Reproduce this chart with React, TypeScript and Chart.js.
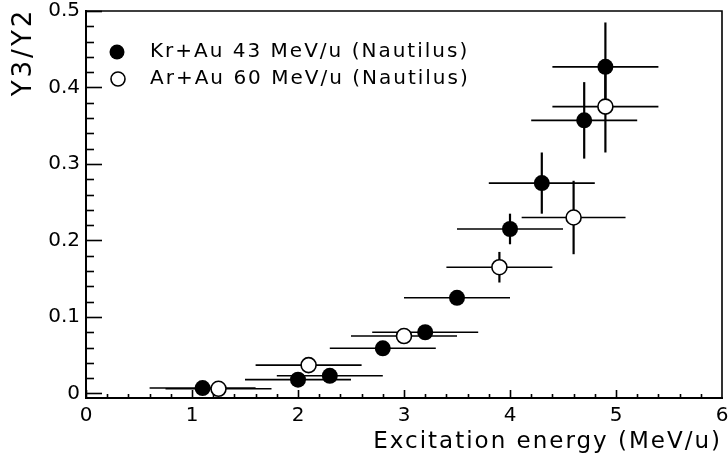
import { useEffect, useRef } from "react";
import { Chart, registerables } from "chart.js";
Chart.register(...registerables);

const krLabel = "Kr+Au 43 MeV/u (Nautilus)";
const krX = [1.1, 2.0, 2.3, 2.8, 3.2, 3.5, 4.0, 4.3, 4.7, 4.9];
const krY = [0.007, 0.018, 0.023, 0.059, 0.08, 0.125, 0.215, 0.275, 0.357, 0.427];
const krXErr = [0.5, 0.5, 0.5, 0.5, 0.5, 0.5, 0.5, 0.5, 0.5, 0.5];
const krYErr = [0, 0, 0, 0, 0, 0, 0.02, 0.04, 0.05, 0.058];

const arLabel = "Ar+Au 60 MeV/u (Nautilus)";
const arX = [1.25, 2.1, 3.0, 3.9, 4.6, 4.9];
const arY = [0.006, 0.037, 0.075, 0.165, 0.23, 0.375];
const arXErr = [0.5, 0.5, 0.5, 0.5, 0.49, 0.5];
const arYErr = [0, 0, 0, 0.02, 0.048, 0.06];

const xTicks = [0, 1, 2, 3, 4, 5, 6];
const yTicks = [0, 0.1, 0.2, 0.3, 0.4, 0.5];
const yTickLabels = ["0", "0.1", "0.2", "0.3", "0.4", "0.5"];
const xTitle = "Excitation energy (MeV/u)";
const yTitle = "Y3/Y2";

const FONT = "'DejaVu Sans', sans-serif";

export default function App() {
  const ref = useRef<HTMLCanvasElement | null>(null);
  useEffect(() => {
    const canvas = ref.current;
    if (!canvas) return;
    const errBars = {
      id: "errBars",
      beforeDatasetsDraw(chart: any) {
        const { ctx, scales } = chart;
        const xs = scales.x;
        const ys = scales.y;
        ctx.save();
        ctx.strokeStyle = "#000";
        const sets = [
          [krX, krY, krXErr, krYErr],
          [arX, arY, arXErr, arYErr],
        ];
        for (const [X, Y, XE, YE] of sets) {
          for (let i = 0; i < X.length; i++) {
            const px = xs.getPixelForValue(X[i]);
            const py = ys.getPixelForValue(Y[i]);
            ctx.lineWidth = 1.6;
            ctx.beginPath();
            ctx.moveTo(xs.getPixelForValue(X[i] - XE[i]), py);
            ctx.lineTo(xs.getPixelForValue(X[i] + XE[i]), py);
            ctx.stroke();
            if (YE[i] > 0) {
              ctx.lineWidth = 2.2;
              ctx.beginPath();
              ctx.moveTo(px, ys.getPixelForValue(Y[i] - YE[i]));
              ctx.lineTo(px, ys.getPixelForValue(Y[i] + YE[i]));
              ctx.stroke();
            }
          }
        }
        ctx.restore();
      },
    };
    const frame = {
      id: "frame",
      afterDraw(chart: any) {
        const { ctx, chartArea: a, scales } = chart;
        const xs = scales.x;
        const ys = scales.y;
        ctx.save();
        ctx.strokeStyle = "#000";
        // top & right border
        ctx.lineWidth = 1.6;
        ctx.beginPath();
        ctx.moveTo(a.left, a.top);
        ctx.lineTo(a.right, a.top);
        ctx.lineTo(a.right, a.bottom);
        ctx.stroke();
        // y ticks
        ctx.lineWidth = 1.6;
        for (let k = 0; k < yTicks.length - 1; k++) {
          for (let m = 0; m < 5; m++) {
            const v = yTicks[k] + ((yTicks[k + 1] - yTicks[k]) * m) / 5;
            const py = Math.round(ys.getPixelForValue(v)) + 0.5;
            const len = m === 0 ? 16 : 8;
            ctx.beginPath();
            ctx.moveTo(a.left, py);
            ctx.lineTo(a.left + len, py);
            ctx.stroke();
          }
        }
        {
          const py = Math.round(ys.getPixelForValue(yTicks[yTicks.length - 1])) + 0.5;
          ctx.beginPath();
          ctx.moveTo(a.left, py);
          ctx.lineTo(a.left + 16, py);
          ctx.stroke();
        }
        // x ticks
        for (let k = 0; k < xTicks.length - 1; k++) {
          for (let m = 0; m < 5; m++) {
            const v = xTicks[k] + ((xTicks[k + 1] - xTicks[k]) * m) / 5;
            const px = Math.round(xs.getPixelForValue(v)) + 0.5;
            const len = m === 0 ? 8 : 4;
            ctx.beginPath();
            ctx.moveTo(px, a.bottom);
            ctx.lineTo(px, a.bottom - len);
            ctx.stroke();
          }
        }
        // legend
        ctx.fillStyle = "#000";
        ctx.beginPath();
        ctx.arc(117, 52, 7.5, 0, Math.PI * 2);
        ctx.fill();
        ctx.fillStyle = "#fff";
        ctx.lineWidth = 1.6;
        ctx.beginPath();
        ctx.arc(118, 79, 7, 0, Math.PI * 2);
        ctx.fill();
        ctx.stroke();
        ctx.fillStyle = "#000";
        ctx.font = `20px ${FONT}`;
        (ctx as any).letterSpacing = "2px";
        ctx.textAlign = "left";
        ctx.textBaseline = "middle";
        ctx.fillText(krLabel, 150, 52);
        ctx.fillText(arLabel, 150, 79);
        // x title
        ctx.font = `23px ${FONT}`;
        (ctx as any).letterSpacing = "2px";
        ctx.textAlign = "right";
        ctx.textBaseline = "alphabetic";
        ctx.fillText(xTitle, 722, 448);
        // y title
        ctx.translate(24, 52);
        ctx.rotate(-Math.PI / 2);
        ctx.font = `26px ${FONT}`;
        (ctx as any).letterSpacing = "3px";
        ctx.textAlign = "center";
        ctx.textBaseline = "middle";
        ctx.fillText(yTitle, 0, 0);
        ctx.restore();
      },
    };
    const chart = new Chart(canvas, {
      type: "scatter",
      data: {
        datasets: [
          {
            label: krLabel,
            data: krX.map((x, i) => ({ x, y: krY[i] })),
            pointRadius: 8,
            pointBackgroundColor: "#000",
            pointBorderColor: "#000",
            pointBorderWidth: 0,
            order: 1,
          },
          {
            label: arLabel,
            data: arX.map((x, i) => ({ x, y: arY[i] })),
            pointRadius: 7.5,
            pointBackgroundColor: "#fff",
            pointBorderColor: "#000",
            pointBorderWidth: 1.6,
            order: 0,
          },
        ],
      },
      options: {
        animation: false,
        responsive: false,
        layout: { padding: { top: 11, right: 6, left: 0, bottom: 0 }, autoPadding: false },
        plugins: { legend: { display: false }, tooltip: { enabled: false } },
        scales: {
          x: {
            type: "linear",
            min: 0,
            max: 6,
            afterFit(s: any) {
              s.height = 59;
              s.paddingLeft = 0;
              s.paddingRight = 0;
              s.paddingTop = 0;
              s.paddingBottom = 0;
            },
            afterBuildTicks(s: any) {
              s.ticks = xTicks.map((v) => ({ value: v }));
            },
            grid: { display: false, drawTicks: false },
            border: { display: true, color: "#000", width: 2 },
            ticks: {
              padding: 6,
              color: "#000",
              font: { family: FONT, size: 20 },
              maxRotation: 0,
              callback: (v: any) => String(v),
            },
          },
          y: {
            type: "linear",
            min: -0.006,
            max: 0.5,
            afterFit(s: any) {
              s.width = 86;
              s.paddingLeft = 0;
              s.paddingRight = 0;
              s.paddingTop = 0;
              s.paddingBottom = 0;
            },
            afterBuildTicks(s: any) {
              s.ticks = yTicks.map((v) => ({ value: v }));
            },
            grid: { display: false, drawTicks: false },
            border: { display: true, color: "#000", width: 2 },
            ticks: {
              padding: 6,
              color: "#000",
              font: { family: FONT, size: 20 },
              callback: (v: any) => {
                const i = yTicks.indexOf(v);
                return i >= 0 ? yTickLabels[i] : "";
              },
            },
          },
        },
      },
      plugins: [errBars, frame],
    } as any);
    return () => chart.destroy();
  }, []);
  return (
    <div style={{ position: "fixed", left: 0, top: 0, width: 728, height: 457, background: "#fff" }}>
      <canvas ref={ref} width={728} height={457} style={{ display: "block", width: 728, height: 457 }} />
    </div>
  );
}
